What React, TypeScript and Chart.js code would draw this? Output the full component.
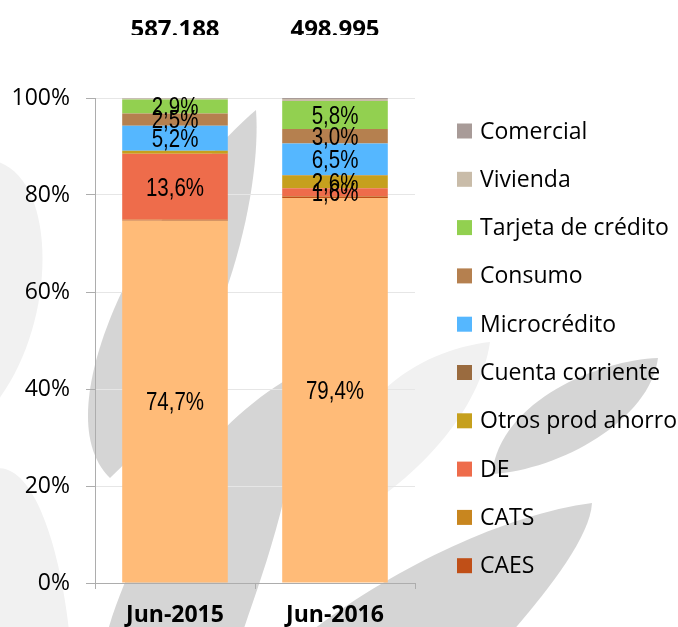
import React, { useEffect, useRef } from "react";
import { Chart, registerables } from "chart.js";

Chart.register(...registerables);

// ---------- data ----------
const categories = ["Jun-2015", "Jun-2016"];
const totals = ["587.188", "498.995"];
const yTickStep = 20;

const seriesNames = [
  "Ahorro",
  "CAES",
  "CATS",
  "DE",
  "Otros prod ahorro",
  "Cuenta corriente",
  "Microcrédito",
  "Consumo",
  "Tarjeta de crédito",
  "Vivienda",
  "Comercial",
];
const ahorro = [74.7, 79.4];
const caes = [0.1, 0.3];
const cats = [0.1, 0.1];
const de = [13.6, 1.6];
const otrosProdAhorro = [0.6, 2.6];
const cuentaCorriente = [0.0, 0.1];
const microcredito = [5.2, 6.5];
const consumo = [2.5, 3.0];
const tarjetaCredito = [2.9, 5.8];
const vivienda = [0.2, 0.4];
const comercial = [0.1, 0.2];
const seriesValues = [
  ahorro,
  caes,
  cats,
  de,
  otrosProdAhorro,
  cuentaCorriente,
  microcredito,
  consumo,
  tarjetaCredito,
  vivienda,
  comercial,
];
const seriesColors = [
  "#FFBB78",
  "#C04F17",
  "#C8861F",
  "#EE6C4B",
  "#C6A01D",
  "#9A6B3F",
  "#55B7FF",
  "#B5804F",
  "#92D050",
  "#C9BCA9",
  "#A89B98",
];
const inLegend = [false, true, true, true, true, true, true, true, true, true, true];
const labelThreshold = 1.5;

// ---------- plugins ----------
const watermarkPlugin = {
  id: "watermark",
  beforeDraw(chart: any) {
    const ctx = chart.ctx as CanvasRenderingContext2D;
    ctx.save();
    const dark = "#D5D5D5";
    const light = "#F1F1F1";
    const shape = (color: string, build: (c: CanvasRenderingContext2D) => void) => {
      ctx.beginPath();
      build(ctx);
      ctx.closePath();
      ctx.fillStyle = color;
      ctx.fill();
    };
    shape(light, (c) => {
      c.moveTo(-10, 160);
      c.bezierCurveTo(60, 170, 60, 330, -10, 410);
    });
    shape(light, (c) => {
      c.moveTo(-10, 470);
      c.bezierCurveTo(30, 455, 60, 540, 70, 640);
      c.lineTo(-10, 640);
    });
    shape(light, (c) => {
      c.moveTo(330, 530);
      c.bezierCurveTo(330, 400, 420, 350, 490, 342);
      c.bezierCurveTo(480, 410, 420, 480, 330, 530);
    });
    shape(dark, (c) => {
      c.moveTo(110, 478);
      c.bezierCurveTo(40, 410, 150, 200, 256, 110);
      c.bezierCurveTo(262, 190, 225, 370, 110, 478);
    });
    shape(dark, (c) => {
      c.moveTo(105, 640);
      c.bezierCurveTo(140, 520, 210, 420, 300, 372);
      c.bezierCurveTo(300, 480, 260, 580, 240, 640);
    });
    shape(dark, (c) => {
      c.moveTo(300, 640);
      c.bezierCurveTo(380, 575, 500, 515, 592, 503);
      c.bezierCurveTo(590, 540, 540, 600, 505, 640);
    });
    shape(dark, (c) => {
      c.moveTo(492, 474);
      c.bezierCurveTo(500, 400, 600, 360, 658, 358);
      c.bezierCurveTo(650, 420, 560, 470, 492, 474);
    });
    ctx.restore();
  },
};

const dataLabelPlugin = {
  id: "segmentLabels",
  afterDatasetsDraw(chart: any) {
    const ctx = chart.ctx as CanvasRenderingContext2D;
    chart.data.datasets.forEach((ds: any, i: number) => {
      const meta = chart.getDatasetMeta(i);
      meta.data.forEach((bar: any, j: number) => {
        const v = ds.data[j] as number;
        if (v < labelThreshold) return;
        const txt = v.toFixed(1).replace(".", ",") + "%";
        ctx.save();
        ctx.translate(bar.x, (bar.y + bar.base) / 2 + 2);
        ctx.scale(0.82, 1);
        ctx.font = '25px "Liberation Sans", Arial, sans-serif';
        ctx.fillStyle = "#000";
        ctx.textAlign = "center";
        ctx.textBaseline = "middle";
        ctx.fillText(txt, 0, 0);
        ctx.restore();
      });
    });
  },
};

const totalsPlugin = {
  id: "totals",
  afterDraw(chart: any) {
    const ctx = chart.ctx as CanvasRenderingContext2D;
    const xs = chart.scales.x;
    ctx.save();
    ctx.beginPath();
    ctx.rect(0, 0, chart.width, 35);
    ctx.clip();
    ctx.font = 'bold 24px "Open Sans", sans-serif';
    ctx.fillStyle = "#000";
    ctx.textAlign = "center";
    ctx.textBaseline = "alphabetic";
    totals.forEach((t, i) => {
      ctx.fillText(t, xs.getPixelForValue(i), 36.5);
    });
    ctx.restore();
  },
};

const legendPlugin = {
  id: "sideLegend",
  afterDraw(chart: any) {
    const ctx = chart.ctx as CanvasRenderingContext2D;
    const area = chart.chartArea;
    const items = chart.data.datasets
      .map((d: any, i: number) => ({ d, i }))
      .filter((o: any) => inLegend[o.i])
      .reverse();
    ctx.save();
    ctx.font = '23px "Open Sans", sans-serif';
    ctx.textAlign = "left";
    ctx.textBaseline = "middle";
    const x = area.right + 42;
    items.forEach((o: any, k: number) => {
      const cy = area.top + 33 + k * 48.3;
      ctx.fillStyle = o.d.backgroundColor;
      ctx.fillRect(x, cy - 7.5, 15, 15);
      ctx.fillStyle = "#000";
      ctx.fillText(o.d.label, x + 23, cy + 1);
    });
    ctx.restore();
  },
};

export default function App() {
  const canvasRef = useRef<HTMLCanvasElement | null>(null);

  useEffect(() => {
    document.body.style.margin = "0";
    const canvas = canvasRef.current;
    if (!canvas) return;
    const axisGray = "#ADADAD";
    const chart = new Chart(canvas, {
      type: "bar",
      data: {
        labels: categories,
        datasets: seriesNames.map((name, i) => ({
          label: name,
          data: seriesValues[i],
          backgroundColor: seriesColors[i],
          borderWidth: 0,
          barPercentage: 0.66,
          categoryPercentage: 1,
        })),
      },
      options: {
        responsive: false,
        animation: false,
        devicePixelRatio: 1,
        layout: { padding: { top: 98, right: 263, bottom: 0, left: 0 } },
        plugins: {
          legend: { display: false },
          tooltip: { enabled: false },
          title: { display: false },
        },
        scales: {
          x: {
            stacked: true,
            grid: {
              display: true,
              drawOnChartArea: false,
              drawTicks: true,
              tickLength: 6,
              tickColor: axisGray,
              offset: true,
            },
            border: { display: true, color: axisGray, width: 1 },
            ticks: {
              color: "#000",
              padding: 13,
              font: { family: "Open Sans", size: 23, weight: "bold" },
            },
            afterFit: (s: any) => {
              s.height = 44;
            },
          },
          y: {
            stacked: true,
            min: 0,
            max: 100,
            ticks: {
              stepSize: yTickStep,
              color: "#000",
              padding: 16,
              font: { family: "Open Sans", size: 23 },
              callback: (v: any) => v + "%",
            },
            grid: {
              color: "#E6E6E6",
              tickColor: axisGray,
              tickLength: 9,
              drawTicks: true,
            },
            border: { display: true, color: axisGray, width: 1 },
            afterFit: (s: any) => {
              s.width = 95;
            },
          },
        },
      },
      plugins: [watermarkPlugin, dataLabelPlugin, totalsPlugin, legendPlugin],
    } as any);
    return () => chart.destroy();
  }, []);

  return (
    <div style={{ width: 678, height: 627 }}>
      <canvas ref={canvasRef} width={678} height={627} style={{ display: "block" }} />
    </div>
  );
}
